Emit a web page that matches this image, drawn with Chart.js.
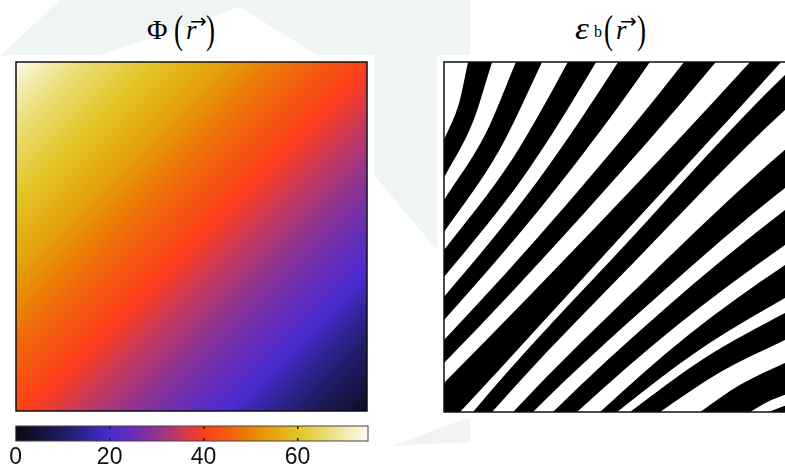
<!DOCTYPE html>
<html>
<head>
<meta charset="utf-8">
<title>Phase map and binary pattern</title>
<script src="https://cdn.jsdelivr.net/npm/chart.js@4.4.1/dist/chart.umd.min.js"></script>
<style>
  html, body { margin: 0; padding: 0; background: #fff; width: 785px; height: 468px; overflow: hidden; position: relative; }
  .wm { position: absolute; left: 0; top: 0; }
  .box { position: absolute; background: #fff; }
  .box canvas { display: block; }
  .glyph { position: absolute; font-family: 'Liberation Serif', 'Times New Roman', serif; font-size: 27px; line-height: 27px; color: #000; white-space: nowrap; }
  .it { font-style: italic; }
  .paren { transform: scaleY(1.45); }
  .arrow { font-family: 'DejaVu Sans', sans-serif; font-size: 20px; line-height: 20px; }
</style>
</head>
<body>
<svg class="wm" width="785" height="468">
  <polygon points="60,0 470,0 470,56 0,56" fill="#eff5f2"/>
  <polygon points="240,7 318,56 98,56" fill="#ffffff"/>
  <polygon points="374,56 437,56 437,250 374,175" fill="#eff5f2"/>
  <polygon points="392,446 470,417 470,442" fill="#f2f4f4"/>
</svg>

<!-- titles -->
<span class="glyph" style="left:147px;top:16px;font-size:28px;line-height:28px">Φ</span>
<span class="glyph paren" style="left:174px;top:17px">(</span>
<span class="glyph it" style="left:186px;top:17px">r</span>
<span class="glyph arrow" style="left:190px;top:11px">→</span>
<span class="glyph paren" style="left:206px;top:17px">)</span>

<span class="glyph it" style="left:575px;top:12px;font-size:32px;line-height:32px;transform:scaleX(1.1);transform-origin:0 0">ε</span>
<span class="glyph" style="left:594px;top:24px;font-size:16px;line-height:16px">b</span>
<span class="glyph paren" style="left:604px;top:17px">(</span>
<span class="glyph it" style="left:616px;top:17px">r</span>
<span class="glyph arrow" style="left:620px;top:11px">→</span>
<span class="glyph paren" style="left:637px;top:17px">)</span>

<div class="box" style="left:9px;top:55px;width:365px;height:363px"><canvas id="phi" width="365" height="363"></canvas></div>
<div class="box" style="left:437px;top:55px;width:363px;height:364px"><canvas id="eps" width="363" height="364"></canvas></div>
<div class="box" style="left:0;top:420px;width:385px;height:48px;background:transparent"><canvas id="cbar" width="385" height="48"></canvas></div>

<script>
// potential sampled along the diagonal, top-left corner (0) to bottom-right corner (1)
const slicePos = [0, 0.05, 0.1, 0.2, 0.3, 0.4, 0.5, 0.6, 0.7, 0.8, 0.9, 1];
const slicePhi = [75, 70, 66, 60, 54, 47, 41, 34, 27, 20, 11, 2];

// colour scale of the potential
const cmapValues = [0, 5, 10, 15, 20, 25, 30, 35, 40, 45, 50, 55, 60, 65, 70, 75];
const cmapColors = ['#07070f', '#14133c', '#1f1c62', '#2f2597', '#4b2bd0', '#6a2eb6', '#92348f', '#c6395d',
                    '#fe3d1d', '#f35c0e', '#ea8206', '#e5a50e', '#e2c426', '#e8d966', '#f1eaaa', '#fdfbef'];
const colorbarTicks = [0, 20, 40, 60];

// black stripes of the binary pattern: upper-left and lower-right edge of each stripe, [x, y] in panel units
const upperEdges = [
  [[-0.1, 0.517], [0, 0.777], [0.044, 0.886], [0.069, 1], [0.169, 1.4]],
  [[-0.1, 0.451], [0, 0.606], [0.119, 0.795], [0.206, 1], [0.373, 1.4]],
  [[-0.1, 0.338], [0, 0.463], [0.194, 0.72], [0.355, 1], [0.565, 1.4]],
  [[-0.1, 0.219], [0, 0.329], [0.264, 0.654], [0.499, 1], [0.741, 1.4]],
  [[-0.1, 0.106], [0, 0.206], [0.353, 0.595], [0.688, 1], [0.984, 1.4]],
  [[-0.1, -0.015], [0, 0.083], [0.443, 0.537], [0.877, 1], [1.234, 1.4]],
  [[-0.225, -0.4], [0.083, 0], [0.526, 0.485], [0.977, 0.963], [1.2, 1.155]],
  [[-0.15, -0.4], [0.198, 0], [0.581, 0.381], [0.977, 0.749], [1.2, 0.921]],
  [[-0.073, -0.4], [0.312, 0], [0.636, 0.298], [0.977, 0.577], [1.2, 0.733]],
  [[0.026, -0.4], [0.447, 0], [0.703, 0.222], [0.977, 0.42], [1.2, 0.56]],
  [[0.014, -0.4], [0.533, 0], [0.747, 0.154], [0.977, 0.283], [1.2, 0.397]],
  [[0.163, -0.4], [0.734, 0], [0.851, 0.079], [0.977, 0.14], [1.2, 0.243]],
  [[0.13, -0.4], [0.93, 0], [1.2, 0.09]]
];
const lowerEdges = [
  [[-0.1, 0.479], [0, 0.669], [0.083, 0.829], [0.138, 1], [0.271, 1.4]],
  [[-0.1, 0.374], [0, 0.514], [0.158, 0.747], [0.281, 1], [0.467, 1.4]],
  [[-0.1, 0.271], [0, 0.386], [0.234, 0.681], [0.436, 1], [0.665, 1.4]],
  [[-0.1, 0.158], [0, 0.263], [0.308, 0.622], [0.59, 1], [0.848, 1.4]],
  [[-0.1, 0.043], [0, 0.14], [0.397, 0.563], [0.779, 1], [1.099, 1.4]],
  [[-0.335, -0.4], [0.046, 0], [0.506, 0.5], [0.966, 1], [1.323, 1.4]],
  [[-0.185, -0.4], [0.138, 0], [0.552, 0.436], [0.977, 0.863], [1.2, 1.046]],
  [[-0.119, -0.4], [0.255, 0], [0.609, 0.328], [0.977, 0.64], [1.2, 0.798]],
  [[-0.036, -0.4], [0.381, 0], [0.67, 0.249], [0.977, 0.477], [1.2, 0.62]],
  [[0.008, -0.4], [0.496, 0], [0.728, 0.175], [0.977, 0.326], [1.2, 0.446]],
  [[0.048, -0.4], [0.619, 0], [0.792, 0.114], [0.977, 0.206], [1.2, 0.309]],
  [[0.199, -0.4], [0.877, 0], [0.925, 0.028], [0.977, 0.049], [1.2, 0.136]],
  [[0, -0.5], [1.2, -0.5]]
];

function rgb(hex) {
  const n = parseInt(hex.slice(1), 16);
  return [(n >> 16) & 255, (n >> 8) & 255, n & 255];
}

function phiColor(v) {
  let i = 0;
  while (i < cmapValues.length - 2 && v > cmapValues[i + 1]) i++;
  const t = Math.min(1, Math.max(0, (v - cmapValues[i]) / (cmapValues[i + 1] - cmapValues[i])));
  const a = rgb(cmapColors[i]);
  const b = rgb(cmapColors[i + 1]);
  return `rgb(${a.map((c, k) => Math.round(c + (b[k] - c) * t)).join(',')})`;
}

// value on the slice, used for smooth shading between samples
function phiAt(s) {
  let i = 0;
  while (i < slicePos.length - 2 && s > slicePos[i + 1]) i++;
  const t = (s - slicePos[i]) / (slicePos[i + 1] - slicePos[i]);
  return slicePhi[i] + (slicePhi[i + 1] - slicePhi[i]) * t;
}

function fieldGradient(context) {
  const { ctx, chartArea, scales } = context.chart;
  if (!chartArea) return 'rgba(0,0,0,0)';
  const g = ctx.createLinearGradient(
    scales.x.getPixelForValue(0), scales.y.getPixelForValue(1),
    scales.x.getPixelForValue(1), scales.y.getPixelForValue(0)
  );
  for (let i = 0; i <= 150; i++) {
    g.addColorStop(i / 150, phiColor(phiAt(i / 150)));
  }
  return g;
}

function barGradient(context) {
  const { ctx, chartArea, scales } = context.chart;
  if (!chartArea) return 'rgba(0,0,0,0)';
  const lo = cmapValues[0];
  const hi = cmapValues[cmapValues.length - 1];
  const g = ctx.createLinearGradient(scales.x.getPixelForValue(lo), 0, scales.x.getPixelForValue(hi), 0);
  cmapValues.forEach((v, i) => g.addColorStop((v - lo) / (hi - lo), cmapColors[i]));
  return g;
}

// box around the plotting area
const framePlugin = {
  id: 'frame',
  afterDraw(chart, args, opts) {
    const { ctx, chartArea: a } = chart;
    ctx.save();
    ctx.strokeStyle = opts.color || '#111';
    ctx.lineWidth = opts.width || 1;
    ctx.strokeRect(a.left, a.top, a.right - a.left, a.bottom - a.top);
    ctx.restore();
  }
};

const unitScales = () => ({
  x: { type: 'linear', min: 0, max: 1, display: false },
  y: { type: 'linear', min: 0, max: 1, display: false }
});

const common = {
  responsive: false,
  animation: false,
  devicePixelRatio: 1,
  events: []
};

const toPoints = (edge) => edge.map(([x, y]) => ({ x, y }));

// left: potential map
new Chart(document.getElementById('phi'), {
  type: 'line',
  data: {
    datasets: [{
      data: [{ x: 0, y: 1 }, { x: 1, y: 1 }],
      fill: 'start',
      backgroundColor: fieldGradient,
      borderColor: 'rgba(0,0,0,0)',
      borderWidth: 0,
      pointRadius: 0
    }]
  },
  options: {
    ...common,
    layout: { padding: 7 },
    scales: unitScales(),
    plugins: { legend: { display: false }, tooltip: { enabled: false }, frame: { width: 1.5, color: '#111' } }
  },
  plugins: [framePlugin]
});

// right: binary stripes, each stripe filled between its two edges
const stripeSets = [];
upperEdges.forEach((edge, i) => {
  stripeSets.push({
    data: toPoints(edge),
    fill: '+1',
    backgroundColor: '#000',
    borderColor: 'rgba(0,0,0,0)',
    borderWidth: 0,
    pointRadius: 0,
    cubicInterpolationMode: 'monotone'
  });
  stripeSets.push({
    data: toPoints(lowerEdges[i]),
    fill: false,
    borderColor: 'rgba(0,0,0,0)',
    borderWidth: 0,
    pointRadius: 0,
    cubicInterpolationMode: 'monotone'
  });
});

new Chart(document.getElementById('eps'), {
  type: 'line',
  data: { datasets: stripeSets },
  options: {
    ...common,
    layout: { padding: 7 },
    scales: unitScales(),
    plugins: { legend: { display: false }, tooltip: { enabled: false }, frame: { width: 1.5, color: '#111' } }
  },
  plugins: [framePlugin]
});

// colour bar
new Chart(document.getElementById('cbar'), {
  type: 'line',
  data: {
    datasets: [{
      data: [{ x: cmapValues[0], y: 1 }, { x: cmapValues[cmapValues.length - 1], y: 1 }],
      fill: 'start',
      backgroundColor: barGradient,
      borderColor: 'rgba(0,0,0,0)',
      borderWidth: 0,
      pointRadius: 0
    }]
  },
  options: {
    ...common,
    layout: { padding: { left: 15.7, right: 17, top: 6, bottom: 0 } },
    scales: {
      x: {
        type: 'linear',
        min: cmapValues[0],
        max: cmapValues[cmapValues.length - 1],
        afterBuildTicks: (axis) => { axis.ticks = colorbarTicks.map((v) => ({ value: v })); },
        afterFit: (axis) => { axis.height = 27; },
        ticks: { font: { family: "'Liberation Sans', Arial, sans-serif", size: 23 }, color: '#111', padding: 3, maxRotation: 0, autoSkip: false },
        grid: {
          z: 1,
          drawTicks: false,
          lineWidth: 1.5,
          color: (c) => (c.tick && c.tick.value > 0 ? '#1a1a1a' : 'rgba(0,0,0,0)')
        },
        border: { display: false, dash: [3, 9] }
      },
      y: { type: 'linear', min: 0, max: 1, display: false }
    },
    plugins: { legend: { display: false }, tooltip: { enabled: false }, frame: { width: 1, color: '#444' } }
  },
  plugins: [framePlugin]
});
</script>
</body>
</html>
